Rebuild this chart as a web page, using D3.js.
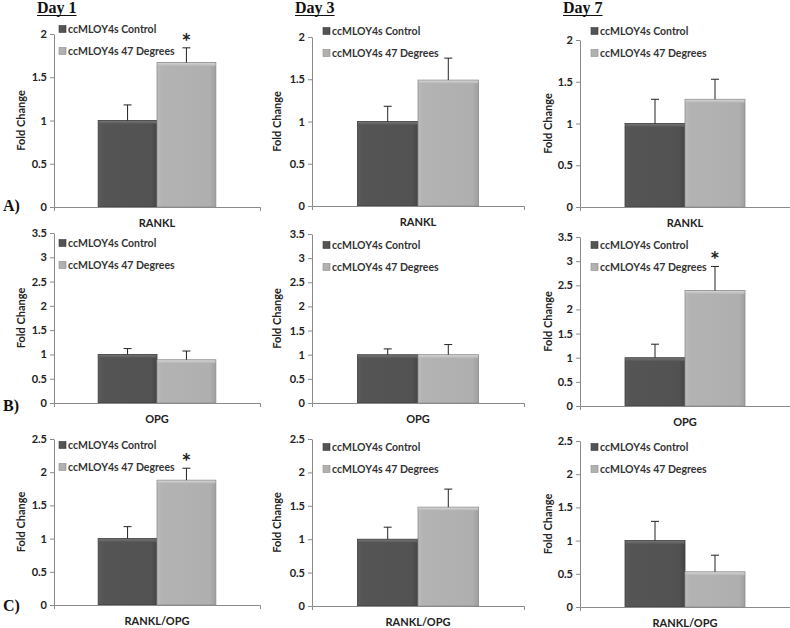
<!DOCTYPE html>
<html><head><meta charset="utf-8">
<script src="https://cdn.jsdelivr.net/npm/d3@7"></script>
<style>
body{margin:0;background:#fff}
svg{display:block}
.t{font-family:Lato,"Open Sans",sans-serif;font-weight:700}
.serif{font-family:"Liberation Serif","DejaVu Serif",serif;font-weight:700}
</style>
</head><body>
<svg id="c" width="790" height="628"></svg>
<script>
// ---- data ----
const days = ["Day 1", "Day 3", "Day 7"];
const rowLabels = ["A)", "B)", "C)"];
const genes = ["RANKL", "OPG", "RANKL/OPG"];
const seriesNames = ["ccMLOY4s Control", "ccMLOY4s 47 Degrees"];
const yTicks = [
  [0, 0.5, 1, 1.5, 2],
  [0, 0.5, 1, 1.5, 2, 2.5, 3, 3.5],
  [0, 0.5, 1, 1.5, 2, 2.5]
];
// rows: RANKL, OPG, RANKL/OPG ; columns: Day 1, Day 3, Day 7
const controlMean   = [[1.00, 1.00, 1.00], [1.00, 1.00, 1.00], [1.00, 1.00, 1.00]];
const controlErrTop = [[1.18, 1.18, 1.29], [1.12, 1.12, 1.28], [1.18, 1.18, 1.29]];
const heatMean      = [[1.67, 1.49, 1.29], [0.89, 1.00, 2.39], [1.88, 1.48, 0.53]];
const heatErrTop    = [[1.84, 1.75, 1.53], [1.07, 1.21, 2.89], [2.06, 1.75, 0.78]];
const heatSignificant = [[true, false, false], [false, false, true], [true, false, false]];

// ---- layout ----
const colAxisX = [54, 312, 580];
const colRight = [260, 524, 790];
const panelTop  = [[34, 37, 40], [233, 234, 237], [439, 439, 441]];
const panelBase = [[207, 206, 207], [403, 403, 406], [605, 606, 607]];
const legendX = [59, 323, 591];
const legendY = [[29, 31, 31], [243, 245, 245], [445, 447, 447]];
const yLabelX = [21, 277, 548];
const dayX = [37, 295, 563];
const rowLabelBase = [211, 411, 611];

const svg = d3.select("#c");
const defs = svg.append("defs");
function grad(id, stops, vertical) {
  const g = defs.append("linearGradient").attr("id", id)
    .attr("x1", 0).attr("y1", 0).attr("x2", vertical ? 0 : 1).attr("y2", vertical ? 1 : 0);
  stops.forEach(s => g.append("stop").attr("offset", s[0]).attr("stop-color", s[1]));
}
grad("gDark", [[0, "#5c5c5c"], [0.08, "#555"], [0.9, "#525252"], [1, "#454545"]]);
grad("gLight", [[0, "#bcbcbc"], [0.08, "#b3b3b3"], [0.9, "#afafaf"], [1, "#9f9f9f"]]);
grad("gDarkTop", [[0, "#747474"], [1, "#555"]], true);
grad("gLightTop", [[0, "#d4d4d4"], [1, "#b3b3b3"]], true);
const fills = ["url(#gDark)", "url(#gLight)"];
const topFills = ["url(#gDarkTop)", "url(#gLightTop)"];
const strokes = ["#3c3c3c", "#8c8c8c"];
const fs = 11;
const legendFs = 10.5;

// Day titles
days.forEach((d, c) => {
  const t = svg.append("text").attr("class", "serif").attr("x", dayX[c]).attr("y", 13)
    .attr("font-size", 16).attr("fill", "#111").text(d);
  const w = t.node().getComputedTextLength();
  svg.append("line").attr("x1", dayX[c]).attr("x2", dayX[c] + w)
    .attr("y1", 15.5).attr("y2", 15.5).attr("stroke", "#111").attr("stroke-width", 1.2);
});
// Row labels
rowLabels.forEach((r, i) => {
  svg.append("text").attr("class", "serif").attr("x", 3).attr("y", rowLabelBase[i])
    .attr("font-size", 16).attr("fill", "#111").text(r);
});

for (let r = 0; r < 3; r++) {
  for (let c = 0; c < 3; c++) {
    const g = svg.append("g");
    const yMax = yTicks[r][yTicks[r].length - 1];
    const y = d3.scaleLinear().domain([0, yMax]).range([panelBase[r][c], panelTop[r][c]]);
    const xCat = d3.scaleBand().domain([genes[r]]).range([colAxisX[c], colRight[c]]);
    const xs = d3.scaleBand().domain(seriesNames).range([colAxisX[c], colRight[c]])
      .paddingInner(0).paddingOuter(0.75);

    const means = [controlMean[r][c], heatMean[r][c]];
    const errs = [controlErrTop[r][c], heatErrTop[r][c]];

    // bars
    seriesNames.forEach((s, i) => {
      const x0 = xs(s), bw = xs.bandwidth();
      const yt = y(means[i]), yb = y(0);
      g.append("rect").attr("x", x0).attr("y", yt).attr("width", bw).attr("height", yb - yt)
        .attr("fill", fills[i]).attr("stroke", strokes[i]).attr("stroke-width", 0.8);
      g.append("rect").attr("x", x0 + 0.5).attr("y", yt + 0.5).attr("width", bw - 1).attr("height", 3)
        .attr("fill", topFills[i]);
    });

    // axes
    const ya = d3.axisLeft(y).tickValues(yTicks[r]).tickFormat(v => String(v))
      .tickSize(4).tickSizeOuter(0).tickPadding(3);
    const yg = g.append("g").attr("transform", `translate(${colAxisX[c]},0)`).call(ya);
    yg.selectAll("path,line").attr("stroke", "#8a8a8a");
    yg.selectAll("text").attr("class", "t").attr("font-size", fs).attr("fill", "#222");

    const xa = d3.axisBottom(xCat).tickSize(0).tickSizeOuter(4).tickPadding(12);
    const xg = g.append("g").attr("transform", `translate(0,${panelBase[r][c]})`).call(xa);
    xg.selectAll("path,line").attr("stroke", "#8a8a8a");
    xg.selectAll("text").attr("class", "t").attr("font-size", fs).attr("fill", "#222");

    // error bars
    seriesNames.forEach((s, i) => {
      const cx = xs(s) + xs.bandwidth() / 2;
      g.append("line").attr("x1", cx).attr("x2", cx).attr("y1", y(means[i])).attr("y2", y(errs[i]))
        .attr("stroke", "#222").attr("stroke-width", 1);
      g.append("line").attr("x1", cx - 4).attr("x2", cx + 4).attr("y1", y(errs[i])).attr("y2", y(errs[i]))
        .attr("stroke", "#222").attr("stroke-width", 1);
    });

    // significance
    if (heatSignificant[r][c]) {
      const cx = xs(seriesNames[1]) + xs.bandwidth() / 2;
      g.append("text").attr("class", "t").attr("x", cx).attr("y", y(heatErrTop[r][c]) + 2)
        .attr("text-anchor", "middle").attr("font-size", 23).attr("fill", "#222").text("*");
    }

    // y label
    g.append("text").attr("class", "t").attr("font-size", fs).attr("fill", "#222")
      .attr("text-anchor", "middle")
      .attr("transform", `translate(${yLabelX[c]},${(panelBase[r][c] + panelTop[r][c]) / 2}) rotate(-90)`)
      .attr("dy", "0.35em").text("Fold Change");

    // legend
    seriesNames.forEach((s, i) => {
      const ly = legendY[r][c] + i * 22;
      g.append("rect").attr("x", legendX[c]).attr("y", ly - 3.5).attr("width", 7).attr("height", 7)
        .attr("fill", fills[i]).attr("stroke", strokes[i]).attr("stroke-width", 0.6);
      g.append("text").attr("class", "t").attr("x", legendX[c] + 9).attr("y", ly)
        .attr("dy", "0.35em").attr("font-size", legendFs).attr("fill", "#333").text(s);
    });
  }
}
</script>
</body></html>
